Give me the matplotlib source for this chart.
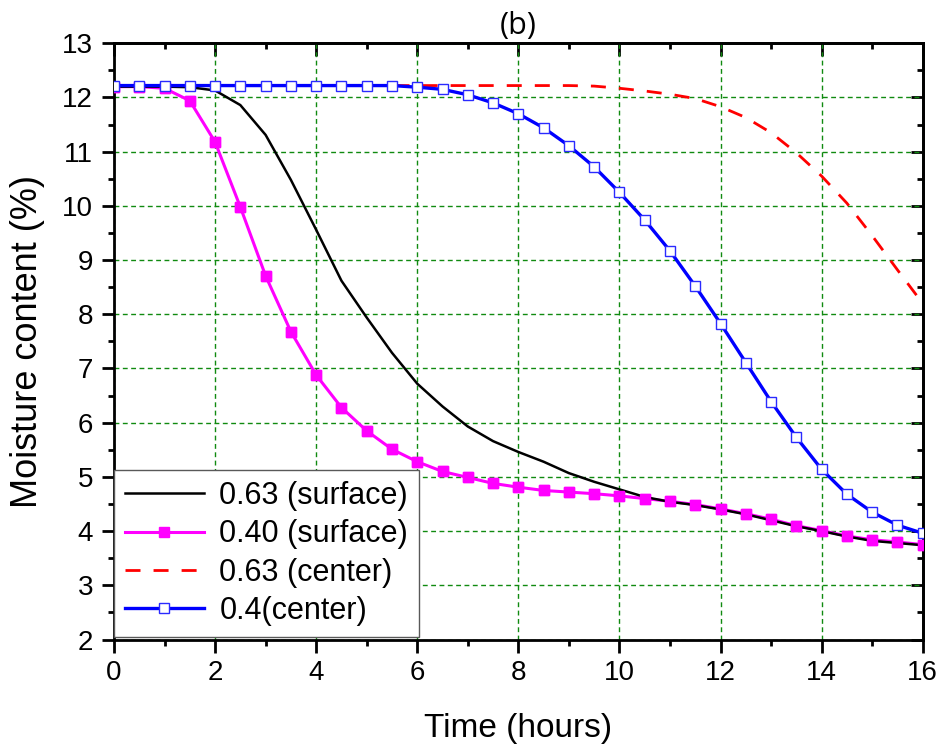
import matplotlib
matplotlib.use("Agg")
import matplotlib.pyplot as plt
from matplotlib.ticker import MultipleLocator

time_h = [0, 0.5, 1, 1.5, 2, 2.5, 3, 3.5, 4, 4.5, 5, 5.5, 6, 6.5, 7, 7.5, 8,
          8.5, 9, 9.5, 10, 10.5, 11, 11.5, 12, 12.5, 13, 13.5, 14, 14.5, 15, 15.5, 16]

surf_063 = [12.20, 12.20, 12.20, 12.19, 12.13, 11.86, 11.31, 10.48, 9.56, 8.62, 7.94,
            7.29, 6.72, 6.30, 5.93, 5.66, 5.46, 5.28, 5.07, 4.91, 4.77, 4.63, 4.54,
            4.48, 4.40, 4.31, 4.20, 4.09, 4.00, 3.90, 3.82, 3.78, 3.74]

surf_040 = [12.20, 12.20, 12.17, 11.94, 11.18, 9.98, 8.71, 7.68, 6.88, 6.28, 5.85,
            5.51, 5.28, 5.10, 4.99, 4.88, 4.81, 4.75, 4.72, 4.69, 4.65, 4.60, 4.55,
            4.49, 4.41, 4.32, 4.22, 4.10, 4.01, 3.91, 3.84, 3.80, 3.75]

center_063 = [12.22, 12.22, 12.22, 12.22, 12.22, 12.22, 12.22, 12.22, 12.22, 12.22,
              12.22, 12.22, 12.22, 12.22, 12.22, 12.22, 12.22, 12.22, 12.22, 12.21,
              12.17, 12.12, 12.06, 11.98, 11.83, 11.63, 11.35, 10.98, 10.55, 10.05,
              9.45, 8.82, 8.20]

center_040 = [12.22, 12.22, 12.22, 12.22, 12.22, 12.22, 12.22, 12.22, 12.22, 12.22,
              12.22, 12.22, 12.19, 12.15, 12.05, 11.90, 11.70, 11.44, 11.11, 10.72,
              10.25, 9.74, 9.17, 8.52, 7.83, 7.11, 6.39, 5.73, 5.14, 4.68, 4.35,
              4.11, 3.96]

labels = ["0.63 (surface)", "0.40 (surface)", "0.63 (center)", "0.4(center)"]
x_ticks = [0, 2, 4, 6, 8, 10, 12, 14, 16]
y_ticks = [2, 3, 4, 5, 6, 7, 8, 9, 10, 11, 12, 13]

plt.rcParams['font.family'] = ['Liberation Sans', 'DejaVu Sans']

fig = plt.figure(figsize=(9.38, 7.45), dpi=100)
ax = fig.add_axes([0.1215, 0.1416, 0.8622, 0.8003])

ax.grid(True, which='major', color='#108a10', linestyle=(0, (3.5, 2.5)), linewidth=1.0, zorder=0)

l_black, = ax.plot(time_h, surf_063, color='black', lw=1.8, zorder=4, label=labels[0])
l_mag, = ax.plot(time_h, surf_040, color='#ff00ff', lw=2.2, marker='s', ms=7,
                 mfc='#ff00ff', mec='#ff00ff', zorder=3, label=labels[1])
ax.plot(time_h, surf_040, ls='none', marker='s', ms=7, mfc='#ff00ff', mec='#ff00ff', zorder=5)
l_red, = ax.plot(time_h, center_063, color='#ff0000', lw=2.0, linestyle=(0, (5.4, 4.7)),
                 zorder=2.5, label=labels[2])
l_blue, = ax.plot(time_h, center_040, color='#0000ff', lw=2.4, marker='s', ms=7,
                  mfc='white', mec='#2a2aff', mew=1.0, zorder=6, label=labels[3])

ax.set_xlim(0, 16)
ax.set_ylim(2, 13)
ax.set_xticks(x_ticks)
ax.set_yticks(y_ticks)
ax.xaxis.set_minor_locator(MultipleLocator(1))
ax.yaxis.set_minor_locator(MultipleLocator(0.5))
ax.tick_params(which='major', direction='out', length=9, width=2, labelsize=20, pad=6,
               top=False, right=False)
ax.tick_params(which='minor', direction='out', length=4.5, width=2, top=False, right=False)
for s in ax.spines.values():
    s.set_linewidth(2)

secx = ax.secondary_xaxis('top')
secx.set_xticks(x_ticks)
secx.xaxis.set_minor_locator(MultipleLocator(1))
secx.tick_params(which='major', direction='in', length=9, width=2, labeltop=False)
secx.tick_params(which='minor', direction='in', length=4.5, width=2)
secx.spines['top'].set_linewidth(2)

secy = ax.secondary_yaxis('right')
secy.set_yticks(y_ticks)
secy.yaxis.set_minor_locator(MultipleLocator(0.5))
secy.tick_params(which='major', direction='in', length=9, width=2, labelright=False)
secy.tick_params(which='minor', direction='in', length=4.5, width=2)
secy.spines['right'].set_linewidth(2)

ax.set_xlabel("Time (hours)", fontsize=24, labelpad=19)
ax.set_ylabel("Moisture content (%)", fontsize=26, labelpad=12)
ax.set_title("(b)", fontsize=22, pad=7, family=['Open Sans', 'DejaVu Sans'])

leg = ax.legend(handles=[l_black, l_mag, l_red, l_blue], loc='lower left',
                bbox_to_anchor=(0, 0.005), borderaxespad=0, fontsize=22, frameon=True,
                fancybox=False, edgecolor='0.35', framealpha=1, handlelength=2.6,
                handletextpad=0.5, labelspacing=0.27, borderpad=0.35, numpoints=1)
leg.get_frame().set_linewidth(1.0)
leg.set_zorder(10)

fig.savefig("out.png", dpi=100)
